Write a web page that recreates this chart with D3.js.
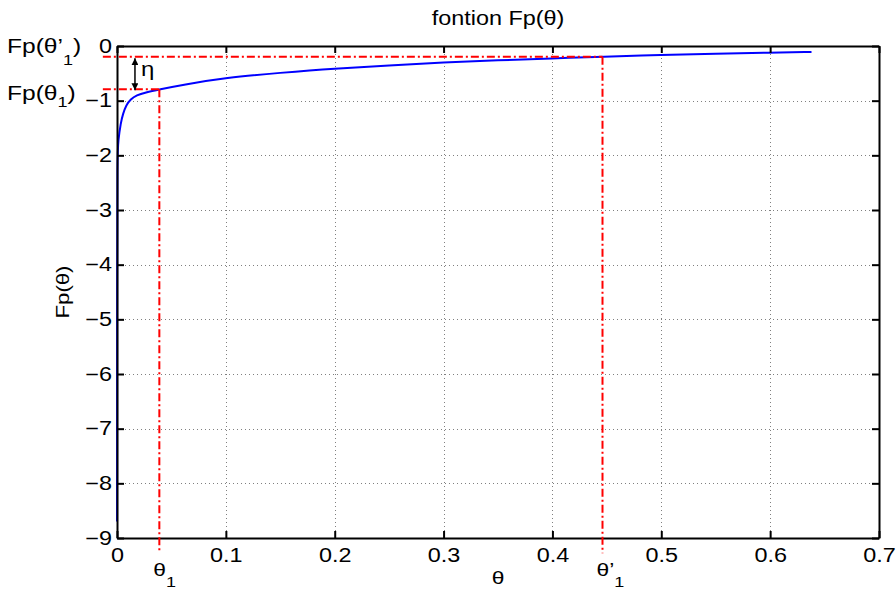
<!DOCTYPE html>
<html>
<head>
<meta charset="utf-8">
<script src="https://cdn.jsdelivr.net/npm/d3@7"></script>
<style>
  html, body { margin: 0; padding: 0; background: #fff; }
  svg { display: block; }
  svg text { font-family: "Liberation Sans", Arial, Helvetica, sans-serif; }
</style>
</head>
<body>
<svg id="chart" width="896" height="592"></svg>
<script>
// ---- data ----
const theta = [0.00005, 0.0001, 0.0003, 0.0012, 0.0034, 0.0055, 0.0085, 0.0125, 0.018, 0.026, 0.0385, 0.06, 0.1, 0.15, 0.2, 0.25, 0.3, 0.35, 0.4, 0.446, 0.5, 0.55, 0.6, 0.638];
const fp    = [-8.7,    -4.0,   -2.0,   -1.72,  -1.41,  -1.24,  -1.08,  -0.975, -0.90, -0.85, -0.795, -0.71, -0.58, -0.49, -0.41, -0.355, -0.30, -0.26, -0.228, -0.195, -0.165, -0.14, -0.122, -0.11];
const xTicks = [0, 0.1, 0.2, 0.3, 0.4, 0.5, 0.6, 0.7];
const yTicks = [-9, -8, -7, -6, -5, -4, -3, -2, -1, 0];
const markTheta = [0.0389, 0.446];   // θ1, θ'1
const markFp = [-0.79, -0.195];      // Fp(θ1), Fp(θ'1)
const refLeft = -0.013;              // start of horizontal reference lines (θ units)
const refBottom = -9.28;             // end of vertical reference lines (Fp units)
const arrowTheta = 0.0165;
const titleText = "fontion Fp(θ)";

// ---- layout ----
const W = 896, H = 592;
const m = { left: 117, right: 17, top: 46, bottom: 54 };
const sx = 1.2; // glyph width factor
const FONT = "Liberation Sans, Arial, sans-serif";
const svg = d3.select("#chart");
const x = d3.scaleLinear().domain([0, 0.7]).range([m.left, W - m.right]);
const y = d3.scaleLinear().domain([-9, 0]).range([H - m.bottom, m.top]);
const fmtY = d => d < 0 ? "\u2212" + Math.abs(d) : String(d);

// grid
const grid = svg.append("g").attr("stroke", "#808080").attr("stroke-width", 1).attr("stroke-dasharray", "1,3");
grid.selectAll(".gx").data(xTicks.slice(1, -1)).join("line")
  .attr("x1", d => Math.round(x(d)) + 0.5).attr("x2", d => Math.round(x(d)) + 0.5)
  .attr("y1", y(0)).attr("y2", y(-9));
grid.selectAll(".gy").data(yTicks.slice(1, -1)).join("line")
  .attr("y1", d => Math.round(y(d)) + 0.5).attr("y2", d => Math.round(y(d)) + 0.5)
  .attr("x1", x(0)).attr("x2", x(0.7));

// curve
const pts = theta.map((t, i) => [t, fp[i]]);
svg.append("path").datum(pts)
  .attr("fill", "none").attr("stroke", "#0000ff").attr("stroke-width", 2)
  .attr("d", d3.line().x(d => x(d[0])).y(d => y(d[1])).curve(d3.curveBasis));

// axes (inward ticks, box)
function styleAxis(g) {
  g.attr("font-family", FONT).attr("font-size", 19.5);
  g.selectAll(".domain").attr("stroke", "#000").attr("stroke-width", 2);
  g.selectAll(".tick line").attr("stroke", "#000").attr("stroke-width", 2);
  g.selectAll("text").attr("font-size", 19.5).attr("fill", "#000");
}
const ax = svg.append("g").attr("transform", `translate(0,${y(-9)})`)
  .call(d3.axisBottom(x).tickValues(xTicks).tickFormat(d3.format("")).tickSizeInner(-7).tickSizeOuter(0).tickPadding(10));
styleAxis(ax);
ax.selectAll("text").attr("transform", `scale(${sx},1)`);
const axTop = svg.append("g").attr("transform", `translate(0,${y(0)})`)
  .call(d3.axisTop(x).tickValues(xTicks).tickFormat("").tickSizeInner(-7).tickSizeOuter(0));
styleAxis(axTop);
const ay = svg.append("g").attr("transform", `translate(${x(0)},0)`)
  .call(d3.axisLeft(y).tickValues(yTicks).tickFormat(fmtY).tickSizeInner(-7).tickSizeOuter(0));
styleAxis(ay);
ay.selectAll("text").attr("x", -5 / sx).attr("transform", `scale(${sx},1)`);
const ayR = svg.append("g").attr("transform", `translate(${x(0.7)},0)`)
  .call(d3.axisRight(y).tickValues(yTicks).tickFormat("").tickSizeInner(-7).tickSizeOuter(0));
styleAxis(ayR);

// reference lines (red dash-dot)
const ref = svg.append("g").attr("stroke", "#ff0000").attr("stroke-width", 2).attr("stroke-dasharray", "8,3,2,3").attr("fill", "none");
markTheta.forEach((t, i) => {
  ref.append("line").attr("x1", x(refLeft)).attr("x2", x(t)).attr("y1", y(markFp[i])).attr("y2", y(markFp[i]));
  ref.append("line").attr("x1", x(t)).attr("x2", x(t)).attr("y1", y(markFp[i])).attr("y2", y(refBottom));
});

// double arrow η
const defs = svg.append("defs");
defs.append("marker").attr("id", "ah").attr("viewBox", "0 0 10 10").attr("refX", 10).attr("refY", 5)
  .attr("markerWidth", 7).attr("markerHeight", 7).attr("markerUnits", "userSpaceOnUse").attr("orient", "auto-start-reverse")
  .append("path").attr("d", "M0,0 L10,5 L0,10 Z").attr("fill", "#000");
svg.append("line")
  .attr("x1", x(arrowTheta)).attr("x2", x(arrowTheta))
  .attr("y1", y(markFp[1]) + 1.5).attr("y2", y(markFp[0]) + 1)
  .attr("stroke", "#000").attr("stroke-width", 1.5)
  .attr("marker-start", "url(#ah)").attr("marker-end", "url(#ah)");

// text helper
function label(px, py, parts, opts = {}) {
  const t = svg.append("text")
    .attr("transform", `translate(${px},${py})` + (opts.rotate ? ` rotate(${opts.rotate})` : "") + ` scale(${sx},1)`)
    .attr("font-family", FONT)
    .attr("font-size", opts.size || 19).attr("fill", "#000")
    .attr("text-anchor", opts.anchor || "start");
  parts.forEach(p => {
    const s = t.append("tspan").text(p.t);
    if (p.sub) s.attr("font-size", p.size || 15).attr("dy", p.dy || 11);
    if (p.up) s.attr("dy", p.up);
  });
  return t;
}

// title
label((x(0) + x(0.7)) / 2, 25, [{ t: titleText }], { anchor: "middle", size: 19.5 });
// axis labels
label((x(0) + x(0.7)) / 2, 584, [{ t: "θ" }], { anchor: "middle", size: 19 });
label(69, (y(0) + y(-9)) / 2, [{ t: "Fp(θ)" }], { anchor: "middle", size: 18.5, rotate: -90 });
// η
label(x(arrowTheta) + 6, 76, [{ t: "η" }], { size: 20 });
// left annotations
label(7, 53, [{ t: "Fp(θ’" }, { t: "1", sub: true, dy: 12 }, { t: ")", up: -12 }], { size: 20.5 });
label(7, 100, [{ t: "Fp(θ" }, { t: "1", sub: true, dy: 7 }, { t: ")", up: -7 }], { size: 20.5 });
// bottom annotations
label(x(markTheta[0]) - 6, 576, [{ t: "θ" }, { t: "1", sub: true, dy: 11 }], { size: 19 });
label(x(markTheta[1]) - 6, 576, [{ t: "θ’" }, { t: "1", sub: true, dy: 11 }], { size: 19 });
</script>
</body>
</html>
